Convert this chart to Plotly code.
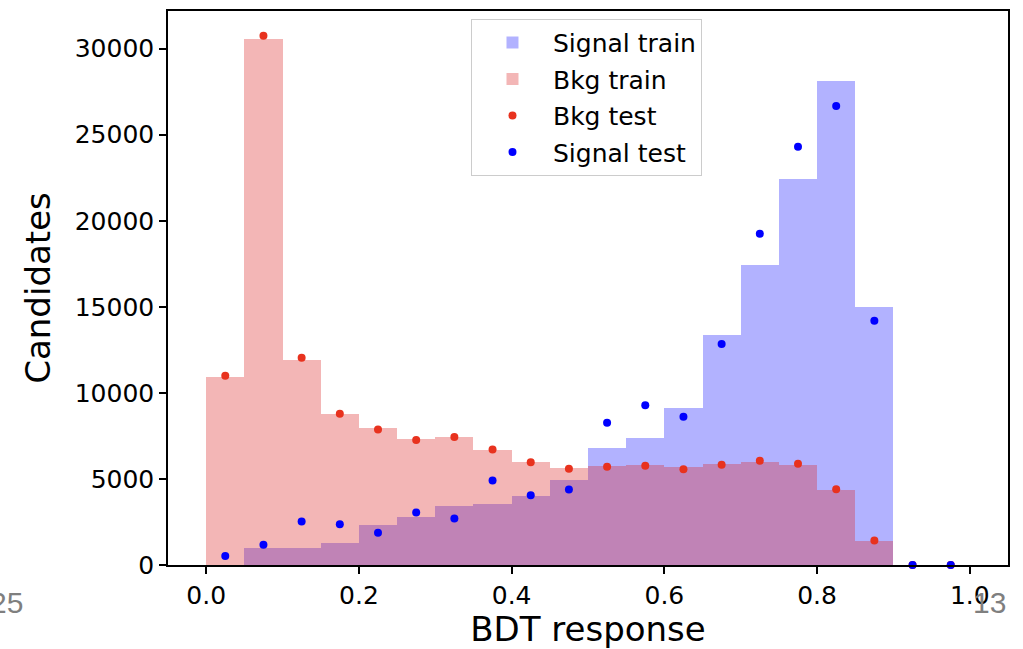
import plotly.graph_objects as go

# Bin centres of the BDT response histogram (bin width 0.05)
bin_centers = [0.025, 0.075, 0.125, 0.175, 0.225, 0.275, 0.325, 0.375, 0.425, 0.475,
               0.525, 0.575, 0.625, 0.675, 0.725, 0.775, 0.825, 0.875, 0.925, 0.975]
bin_width = 0.05

signal_train = [0, 965, 1000, 1255, 2316, 2818, 3435, 3532, 4014, 4960,
                6800, 7354, 9131, 13376, 17430, 22450, 28120, 15015, 0, 0]
bkg_train = [10944, 30590, 11928, 8801, 7933, 7335, 7412, 6698, 6003, 5655,
             5733, 5810, 5675, 5887, 5983, 5790, 4360, 1390, 0, 0]
bkg_test = [11002, 30747, 12044, 8783, 7875, 7257, 7431, 6717, 5964, 5597,
            5713, 5771, 5559, 5829, 6060, 5887, 4400, 1428, 0, 0]
signal_test = [521, 1177, 2530, 2374, 1872, 3050, 2703, 4903, 4053, 4382,
               8262, 9283, 8611, 12837, 19242, 24302, 26677, 14186, 0, 0]

x_ticks = [0.0, 0.2, 0.4, 0.6, 0.8, 1.0]
y_ticks = [0, 5000, 10000, 15000, 20000, 25000, 30000]

FONT = "DejaVu Sans"

fig = go.Figure()
fig.add_trace(go.Bar(x=bin_centers, y=signal_train, width=bin_width, name="Signal train",
                     marker=dict(color="rgba(0,0,255,0.3)", line=dict(width=0)),
                     legendgroup="a"))
fig.add_trace(go.Bar(x=bin_centers, y=bkg_train, width=bin_width, name="Bkg train",
                     marker=dict(color="rgba(220,40,40,0.34)", line=dict(width=0)),
                     legendgroup="b"))
fig.add_trace(go.Scatter(x=bin_centers, y=bkg_test, mode="markers", name="Bkg test",
                         marker=dict(color="#e8321e", size=8), legendgroup="c",
                         cliponaxis=False))
fig.add_trace(go.Scatter(x=bin_centers, y=signal_test, mode="markers", name="Signal test",
                         marker=dict(color="#0000ff", size=8), legendgroup="d",
                         cliponaxis=False))

axis_common = dict(
    showline=True, linecolor="black", linewidth=1.5, mirror=True,
    ticks="outside", ticklen=7, tickwidth=1.5, tickcolor="black",
    showgrid=False, zeroline=False,
    tickfont=dict(family=FONT, size=25, color="black"),
)

fig.update_layout(
    width=1023, height=649,
    margin=dict(l=168, r=15, t=9, b=83),
    paper_bgcolor="white", plot_bgcolor="white",
    barmode="overlay", bargap=0,
    font=dict(family=FONT, color="black"),
    xaxis=dict(range=[-0.05, 1.05], tickvals=x_ticks, tickformat=".1f",
               title=dict(text="BDT response", font=dict(family=FONT, size=34), standoff=6),
               **axis_common),
    yaxis=dict(range=[0, 32190], tickvals=y_ticks, tickformat="d",
               title=dict(text="Candidates", font=dict(family=FONT, size=34), standoff=14),
               **axis_common),
    legend=dict(x=0.3607, y=0.986, xanchor="left", yanchor="top",
                bgcolor="rgba(255,255,255,0.8)", bordercolor="#cccccc", borderwidth=1,
                font=dict(family=FONT, size=25, color="black"),
                traceorder="grouped", tracegroupgap=1, itemwidth=71),
    annotations=[
        dict(text="25", xref="paper", yref="paper", x=(25 - 168) / 840, y=-0.068,
             xanchor="right", yanchor="middle", showarrow=False,
             font=dict(family="Liberation Sans", size=30, color="#7f7f7f")),
        dict(text="13", xref="paper", yref="paper", x=(1008 - 168) / 840, y=-0.068,
             xanchor="right", yanchor="middle", showarrow=False,
             font=dict(family="Liberation Sans", size=30, color="#7f7f7f")),
    ],
)

fig.write_html("out.html", config={"displayModeBar": False},
               post_script="document.body.style.margin='0px';document.body.style.overflow='hidden';")
